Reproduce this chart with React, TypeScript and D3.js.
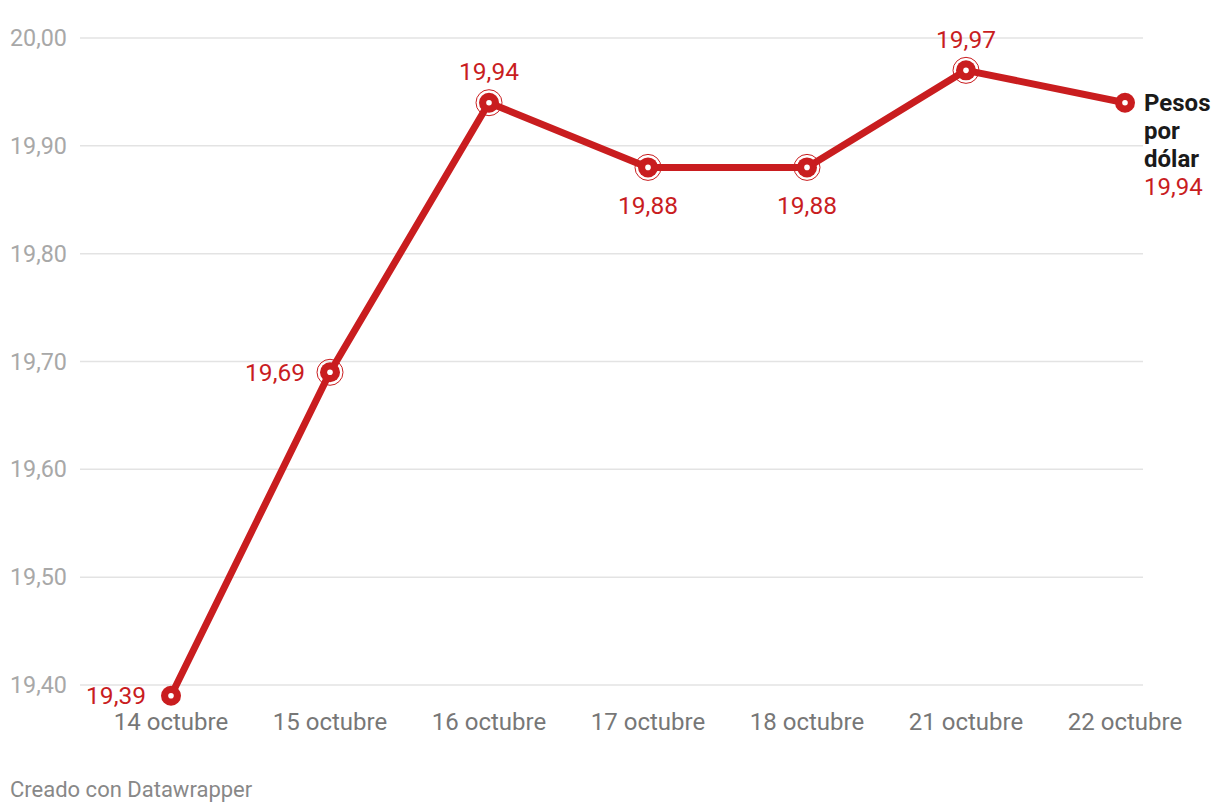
import React from "react";
import * as d3 from "d3";

const dates = ["14 octubre", "15 octubre", "16 octubre", "17 octubre", "18 octubre", "21 octubre", "22 octubre"];
const values = [19.39, 19.69, 19.94, 19.88, 19.88, 19.97, 19.94];
const yTicks = [19.4, 19.5, 19.6, 19.7, 19.8, 19.9, 20.0];
// label placement per point: "left", "top", "bottom", "none"
const labelPos = ["left", "left", "top", "bottom", "bottom", "top", "none"];
const seriesName = ["Pesos", "por", "dólar"];

const W = 1220, H = 812;
const RED = "#c91d1f";
const FONT = "Roboto, 'Noto Sans', sans-serif";

const fmt = (v: number) => v.toFixed(2).replace(".", ",");

export default function App() {
  const x = d3.scalePoint<string>().domain(dates).range([171, 1125]);
  const y = d3.scaleLinear().domain([19.4, 20.0]).range([685, 38]);
  const line = d3.line<number>().x((_, i) => x(dates[i])!).y((d) => y(d));
  const last = values.length - 1;
  return (
    <div style={{ position: "absolute", left: 0, top: 0 }}>
      <svg width={W} height={H} style={{ display: "block", fontFamily: FONT }}>
        <rect width={W} height={H} fill="#fff" />
        {yTicks.map((t) => (
          <g key={t}>
            <line x1={80} x2={1143} y1={y(t)} y2={y(t)} stroke="#e3e3e3" strokeWidth={1.5} />
            <text x={10} y={y(t)} dy="0.35em" fontSize={23.3} fill="#a8a8a8">{fmt(t)}</text>
          </g>
        ))}
        {dates.map((d) => (
          <text key={d} x={x(d)} y={722} dy="0.35em" textAnchor="middle" fontSize={24} fill="#777">{d}</text>
        ))}
        <path d={line(values) || ""} fill="none" stroke={RED} strokeWidth={7} strokeLinejoin="round" />
        {values.map((v, i) => {
          const cx = x(dates[i])!;
          const cy = y(v);
          const ring = i > 0 && i < last;
          return (
            <g key={i}>
              {ring && <circle cx={cx} cy={cy} r={13} fill="none" stroke={RED} strokeWidth={1} />}
              <circle cx={cx} cy={cy} r={10} fill={RED} />
              <circle cx={cx} cy={cy} r={2.8} fill="#fff" />
            </g>
          );
        })}
        {values.map((v, i) => {
          const cx = x(dates[i])!;
          const cy = y(v);
          const p = labelPos[i];
          if (p === "none") return null;
          let tx = cx, ty = cy, anchor = "middle";
          if (p === "left") { tx = cx - 25; anchor = "end"; ty = cy; }
          if (p === "top") { ty = cy - 31; }
          if (p === "bottom") { ty = cy + 38; }
          return (
            <text key={i} x={tx} y={ty} dy="0.35em" textAnchor={anchor} fontSize={24.5} fill={RED}>{fmt(v)}</text>
          );
        })}
        {seriesName.map((s, k) => (
          <text key={s} x={1144} y={y(values[last]) + 28 * k} dy="0.35em" fontSize={24} fontWeight="bold" fill="#1a1a1a">{s}</text>
        ))}
        <text x={1144} y={y(values[last]) + 28 * 3} dy="0.35em" fontSize={24} fill={RED}>{fmt(values[last])}</text>
        <text x={10} y={789} dy="0.35em" fontSize={22} fill="#888">Creado con Datawrapper</text>
      </svg>
    </div>
  );
}
